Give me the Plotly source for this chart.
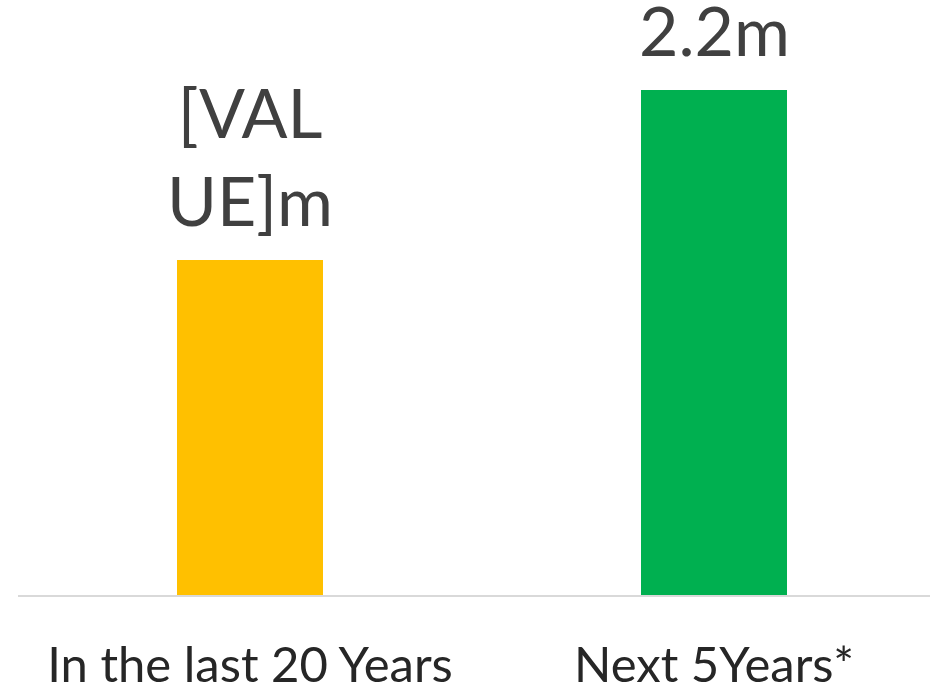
import plotly.graph_objects as go

categories = ["In the last 20 Years", "Next 5Years*"]
values = [1.46, 2.2]
labels = ["[VAL<br>UE]m", "2.2m"]
colors = ["#FFC000", "#00B050"]

fig = go.Figure()
fig.add_trace(go.Bar(
    x=categories, y=values, marker=dict(color=colors, line=dict(width=0)),
    width=0.315, hoverinfo="skip",
))
for c, v, t in zip(categories, values, labels):
    fig.add_annotation(x=c, y=v, text=t, showarrow=False, yanchor="bottom",
                       yshift=18, font=dict(family="Lato", size=68, color="#404040"))

fig.update_layout(
    width=930, height=686,
    margin=dict(l=18, r=0, t=0, b=91),
    paper_bgcolor="white", plot_bgcolor="white",
    showlegend=False, bargap=0,
    xaxis=dict(range=[-0.5, 1.4655], showline=True, linecolor="#D9D9D9", linewidth=2,
               showgrid=False, ticks="", tickfont=dict(family="Lato", size=49, color="#262626"),
               automargin=False, ticklabelstandoff=26),
    yaxis=dict(range=[0, 2.592], visible=False, showgrid=False, zeroline=False, automargin=False),
)
fig.write_html("out.html", config={"displayModeBar": False},
               post_script="document.body.style.margin='0';document.body.style.overflow='hidden';")
